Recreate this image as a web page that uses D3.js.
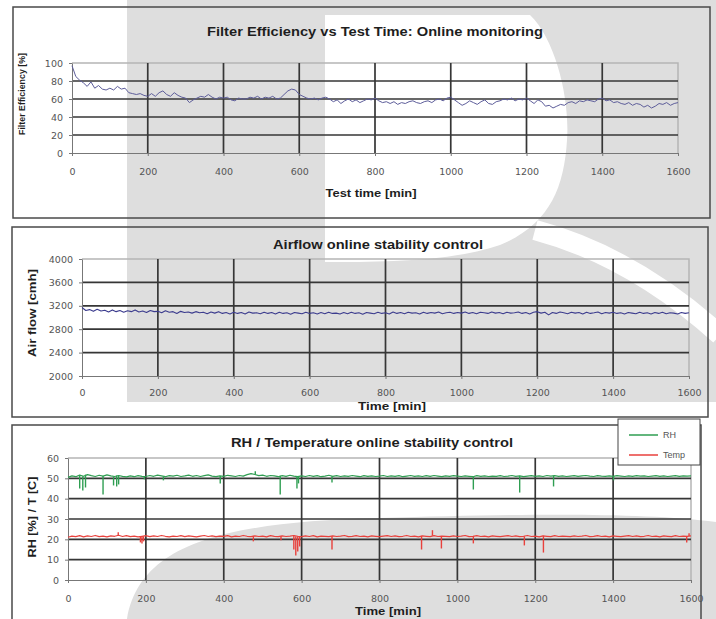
<!DOCTYPE html>
<meta charset="utf-8">
<title>Filter test: online monitoring</title>
<style>
    body { margin: 0; background: #fff; }
    svg { display: block; font-family: "Liberation Sans", Arial, sans-serif; }
    .title { font-size: 13.5px; font-weight: bold; fill: #1e1e1e; }
    .axis-title { font-size: 11px; font-weight: bold; fill: #1e1e1e; }
    .axis-title.small { font-size: 9px; }
    .tick text { font-family: "DejaVu Sans", sans-serif; font-size: 9.5px; fill: #555; }
    .tick line, .domain { stroke: #777; }
    .grid line { stroke: #363636; stroke-width: 1.7; }
    .frame { fill: none; stroke: #4a4a4a; stroke-width: 1.5; }
    .legend text { font-size: 9px; fill: #555; }
</style>
<svg width="716" height="619"></svg>
<script src="https://d3js.org/d3.v7.min.js"></script>
<script>

    // ---- data ----
    var timeTicks = [0, 200, 400, 600, 800, 1000, 1200, 1400, 1600];
    var sampleStep = 10; // minutes between samples

    var effTicks = [0, 20, 40, 60, 80, 100];
    var effValues = [
        97, 85, 81, 78, 74, 79, 72, 75, 71, 70,
        72, 70, 74, 71, 72, 67, 66, 65, 66, 64,
        63, 66, 63, 67, 69, 65, 63, 67, 64, 62,
        61, 56, 59, 61, 63, 62, 65, 62, 60, 62,
        61, 62, 59, 58, 61, 60, 60, 62, 61, 63,
        60, 62, 61, 63, 60, 61, 65, 69, 71, 70,
        65, 63, 61, 60, 61, 59, 61, 62, 60, 57,
        59, 55, 58, 60, 57, 59, 56, 58, 60, 59,
        61, 58, 56, 57, 55, 57, 54, 56, 55, 57,
        58, 56, 55, 57, 58, 56, 59, 60, 58, 61,
        62, 59, 56, 53, 55, 58, 56, 54, 57, 59,
        55, 54, 57, 58, 60, 59, 61, 58, 60, 59,
        61, 58, 55, 59, 57, 52, 53, 50, 52, 54,
        53, 56, 57, 55, 58, 57, 59, 58, 57, 60,
        61, 58, 59, 56, 57, 55, 54, 56, 53, 55,
        54, 51, 53, 50, 52, 55, 54, 56, 53, 55,
        56
    ];

    var flowTicks = [2000, 2400, 2800, 3200, 3600, 4000];
    var flowValues = [
        3170, 3120, 3135, 3105, 3140, 3110, 3125, 3095, 3130, 3100,
        3120, 3090, 3115, 3100, 3130, 3095, 3110, 3085, 3120, 3100,
        3105, 3080, 3115, 3090, 3100, 3070, 3105, 3085, 3095, 3075,
        3100, 3080, 3090, 3065, 3095, 3075, 3100, 3070, 3085, 3060,
        3090, 3070, 3085, 3060, 3095, 3075, 3080, 3065, 3090, 3070,
        3085, 3060, 3090, 3070, 3080, 3055, 3085, 3075, 3065, 3090,
        3070, 3080, 3060, 3085, 3065, 3090, 3070, 3075, 3060, 3085,
        3065, 3090, 3070, 3080, 3055, 3085, 3075, 3065, 3090, 3070,
        3080, 3060, 3095, 3070, 3085, 3065, 3090, 3075, 3080, 3060,
        3090, 3070, 3085, 3075, 3095, 3065, 3080, 3090, 3070, 3085,
        3075, 3095, 3070, 3085, 3065, 3090, 3080, 3070, 3095, 3075,
        3085, 3065, 3090, 3075, 3080, 3095, 3070, 3085, 3060, 3090,
        3100, 3075, 3090, 3045, 3085, 3070, 3095, 3080, 3065, 3090,
        3075, 3085, 3060, 3090, 3070, 3080, 3095, 3065, 3085, 3075,
        3090, 3070, 3080, 3060, 3085, 3075, 3065, 3090, 3070, 3080,
        3060, 3085, 3070, 3090, 3065, 3080, 3075, 3060, 3085, 3070,
        3080
    ];

    var rhTicks = [0, 10, 20, 30, 40, 50, 60];
    var rhValues = [
        50.5, 51.2, 50.8, 51.6, 51.0, 51.8, 51.3, 50.9, 51.5, 51.1,
        51.7, 51.2, 50.9, 51.4, 51.0, 50.7, 51.2, 50.8, 51.3, 51.0,
        50.9, 51.4, 51.0, 51.6, 51.2, 50.8, 51.3, 51.1, 51.5, 50.9,
        51.2, 51.6, 51.0, 51.4, 50.9, 51.3, 51.7, 51.1, 50.8, 51.2,
        51.0, 51.5, 51.2, 50.9, 51.4, 51.1, 51.8, 52.3, 51.9, 51.3,
        51.6, 51.0, 51.4, 51.2, 50.8, 51.3, 51.0, 51.5, 51.1, 50.8,
        51.2, 50.9, 51.4, 51.0, 51.3, 50.8, 51.1, 51.5, 51.0, 51.3,
        50.9, 51.2, 51.0, 51.4, 51.1, 50.8, 51.3, 51.0, 51.2, 50.9,
        51.1, 51.4, 50.9, 51.2, 51.0, 51.3, 50.8, 51.1, 51.4, 51.0,
        51.2, 50.9, 51.3, 51.0, 51.4, 51.1, 50.8, 51.2, 51.0, 51.3,
        51.1, 50.9, 51.2, 51.0, 50.8, 51.3, 51.0, 51.2, 50.9, 51.1,
        51.0, 51.3, 50.9, 51.1, 51.4, 51.0, 51.2, 50.8, 51.1, 51.3,
        51.0, 51.2, 50.9, 51.4, 51.1, 51.3, 51.0, 51.2, 50.9, 51.1,
        51.3, 51.0, 51.2, 51.4, 51.1, 50.9, 51.3, 51.1, 51.0, 51.2,
        51.0, 51.3, 51.1, 50.9, 51.2, 51.0, 51.3, 51.1, 51.2, 50.9,
        51.1, 51.3, 51.0, 51.2, 50.9, 51.1, 51.3, 51.0, 51.2, 51.1,
        51.2
    ];
    // short excursions of the RH signal: [time, value]
    var rhSpikes = [
        [30, 45], [38, 44], [45, 45.5], [90, 42], [117, 46.5], [125, 46], [130, 47],
        [196, 49.5], [245, 49], [391, 47.5], [481, 53.5], [545, 42], [588, 45],
        [592, 47.5], [678, 48], [1041, 44.5], [1160, 43], [1247, 46], [1401, 49]
    ];

    var tempValues = [
        21.0, 21.6, 21.3, 21.8, 21.2, 21.7, 21.4, 21.9, 21.3, 21.6,
        21.2, 21.7, 21.5, 22.0, 21.4, 21.8, 21.3, 21.6, 21.2, 21.5,
        21.8, 21.3, 21.7, 21.4, 21.9, 21.5, 21.2, 21.6, 21.4, 21.8,
        21.3, 21.7, 21.5, 21.2, 21.6, 21.9, 21.4, 21.7, 21.3, 21.6,
        21.5, 21.8, 21.2, 21.6, 21.4, 21.9, 21.5, 21.3, 21.7, 21.4,
        21.6, 21.2, 21.8, 21.5, 21.3, 21.7, 21.4, 21.6, 21.9, 21.5,
        21.3, 21.7, 21.4, 21.8, 21.2, 21.6, 21.5, 21.3, 21.7, 21.4,
        21.6, 21.9, 21.3, 21.5, 21.8, 21.4, 21.6, 21.2, 21.7, 21.5,
        21.3, 21.6, 21.8, 21.4, 21.7, 21.3, 21.5, 21.9, 21.4, 21.6,
        21.2, 21.7, 21.5, 21.3, 21.8, 21.4, 21.6, 21.5, 21.3, 21.7,
        21.4, 21.6, 21.9, 21.3, 21.5, 21.8, 21.4, 21.6, 21.2, 21.7,
        21.5, 21.3, 21.6, 21.8, 21.4, 21.7, 21.3, 21.5, 21.9, 21.4,
        21.6, 21.2, 21.7, 21.5, 21.3, 21.8, 21.4, 21.6, 21.5, 21.3,
        21.7, 21.4, 21.6, 21.9, 21.3, 21.5, 21.8, 21.4, 21.6, 21.2,
        21.7, 21.5, 21.3, 21.6, 21.8, 21.4, 21.7, 21.3, 21.5, 21.9,
        21.4, 21.6, 21.2, 21.7, 21.5, 21.3, 21.8, 21.4, 21.6, 21.5,
        21.7
    ];
    var tempSpikes = [
        [129, 23.5], [186, 18.5], [190, 18], [194, 19], [476, 19], [547, 19.5],
        [580, 15], [585, 12], [590, 14], [595, 16.5], [678, 15], [908, 15],
        [936, 24.5], [959, 15.5], [1041, 18], [1172, 17], [1221, 13.5],
        [1589, 18.5], [1595, 23]
    ];

    // ---- layout ----
    var svg = d3.select("svg");
    var wmGray = "#dedede";

    // background watermark of the scanned page
    svg.append("path").attr("fill", wmGray)
        .attr("d", "M127,0H716V402H127Z");
    svg.append("path").attr("fill", "#fff")
        .attr("d", "M325,15H530C556,40 570,100 567,140C564,190 548,225 500,245C450,262 380,262 325,262Z");
    svg.append("path").attr("fill", "none").attr("stroke", "#fff").attr("stroke-width", 20)
        .attr("d", "M535,230C610,250 670,290 720,335");
    svg.append("path").attr("fill", wmGray)
        .attr("d", "M127,619C140,545 220,522 380,518C520,514 640,512 716,522V619Z");

    // text boxes: [x, y, length]
    var panels = [
        {
            box: [13, 7, 697, 211], left: 72, right: 678, top: 63, bottom: 153,
            yDomain: [0, 100], yTicks: effTicks, xPad: 12,
            title: "Filter Efficiency vs Test Time: Online monitoring", titlePos: [375, 36, 336],
            xTitle: "Test time [min]", xTitlePos: [371, 197, 91],
            yTitle: "Filter Efficiency [%]", yTitlePos: [22, 94, 82], yTitleSmall: true
        },
        {
            box: [12, 227, 696, 190], left: 82, right: 689, top: 259, bottom: 376,
            yDomain: [2000, 4000], yTicks: flowTicks, xPad: 10,
            title: "Airflow online stability control", titlePos: [378, 249, 210],
            xTitle: "Time [min]", xTitlePos: [392, 410, 68],
            yTitle: "Air flow [cmh]", yTitlePos: [32, 313, 88]
        },
        {
            box: [12, 425, 689, 220], left: 68, right: 691, top: 458, bottom: 580,
            yDomain: [0, 60], yTicks: rhTicks, xPad: 12,
            title: "RH / Temperature online stability control", titlePos: [372, 447, 282],
            xTitle: "Time [min]", xTitlePos: [388, 615, 66],
            yTitle: "RH [%] / T [C]", yTitlePos: [32, 517, 81]
        }
    ];

    var scales = panels.map(drawPanel);

    // ---- series ----
    drawLine(scales[0], effValues, "#5d5d9a", 1);
    drawLine(scales[1], flowValues, "#3c3c8e", 1.1);
    drawLine(scales[2], rhValues, "#2f9e52", 1.2);
    drawSpikes(scales[2], rhValues, rhSpikes, "#2f9e52");
    drawLine(scales[2], tempValues, "#e8413c", 1.2);
    drawSpikes(scales[2], tempValues, tempSpikes, "#e8413c");

    // legend of the RH panel
    var legend = svg.append("g").attr("class", "legend");
    legend.append("rect")
        .attr("x", 618).attr("y", 419).attr("width", 82).attr("height", 46)
        .attr("fill", "#fff").attr("stroke", "#444").attr("stroke-width", 1);
    [["RH", "#2f9e52"], ["Temp", "#e8413c"]].forEach(function(d, i) {
        var yy = 435 + i * 20;
        legend.append("line")
            .attr("x1", 629).attr("x2", 658).attr("y1", yy).attr("y2", yy)
            .attr("stroke", d[1]).attr("stroke-width", 1.5);
        legend.append("text")
            .attr("x", 663).attr("y", yy).attr("dy", "0.35em")
            .text(d[0]);
    });

    function drawPanel(p) {
        var x = d3.scaleLinear().domain([0, 1600]).range([p.left, p.right]),
            y = d3.scaleLinear().domain(p.yDomain).range([p.bottom, p.top]);
        var g = svg.append("g");

        g.append("rect").attr("class", "frame")
            .attr("x", p.box[0]).attr("y", p.box[1])
            .attr("width", p.box[2]).attr("height", p.box[3]);

        // light outline on top and right of the plot area
        g.append("path")
            .attr("d", "M" + p.left + "," + p.top + "H" + p.right + "V" + p.bottom)
            .attr("fill", "none").attr("stroke", "#b5b5b5").attr("stroke-width", 1.5);

        var grid = g.append("g").attr("class", "grid");
        grid.selectAll(".h").data(p.yTicks.slice(1, -1)).enter().append("line")
            .attr("x1", p.left).attr("x2", p.right)
            .attr("y1", function(d) { return y(d); }).attr("y2", function(d) { return y(d); });
        grid.selectAll(".v").data(timeTicks.slice(1, -1)).enter().append("line")
            .attr("y1", p.top).attr("y2", p.bottom)
            .attr("x1", function(d) { return x(d); }).attr("x2", function(d) { return x(d); });

        g.append("g")
            .attr("transform", "translate(" + p.left + ",0)")
            .call(d3.axisLeft(y).tickValues(p.yTicks).tickFormat(d3.format("d"))
                .tickSize(3).tickPadding(6).tickSizeOuter(0));
        g.append("g")
            .attr("transform", "translate(0," + p.bottom + ")")
            .call(d3.axisBottom(x).tickValues(timeTicks).tickFormat(d3.format("d"))
                .tickSize(3).tickPadding(p.xPad).tickSizeOuter(0));

        fitText(g.append("text").attr("class", "title"), p.titlePos, p.title);
        fitText(g.append("text").attr("class", "axis-title"), p.xTitlePos, p.xTitle);
        g.append("text").attr("class", "axis-title" + (p.yTitleSmall ? " small" : ""))
            .attr("transform", "translate(" + p.yTitlePos[0] + "," + p.yTitlePos[1] + ") rotate(-90)")
            .attr("text-anchor", "middle").attr("dy", "0.35em")
            .attr("textLength", p.yTitlePos[2]).attr("lengthAdjust", "spacingAndGlyphs")
            .text(p.yTitle);

        return {x: x, y: y};
    }

    function fitText(sel, pos, str) {
        sel.attr("x", pos[0]).attr("y", pos[1]).attr("text-anchor", "middle")
            .attr("textLength", pos[2]).attr("lengthAdjust", "spacingAndGlyphs")
            .text(str);
    }

    function drawLine(s, values, color, width) {
        var line = d3.line()
            .x(function(d, i) { return s.x(i * sampleStep); })
            .y(function(d) { return s.y(d); });
        svg.append("path")
            .datum(values)
            .attr("fill", "none")
            .attr("stroke", color)
            .attr("stroke-width", width)
            .attr("stroke-linejoin", "round")
            .attr("d", line);
    }

    function drawSpikes(s, values, spikes, color) {
        svg.append("g").selectAll("line")
            .data(spikes)
            .enter().append("line")
            .attr("x1", function(d) { return s.x(d[0]); })
            .attr("x2", function(d) { return s.x(d[0]); })
            .attr("y1", function(d) { return s.y(values[Math.round(d[0] / sampleStep)]); })
            .attr("y2", function(d) { return s.y(d[1]); })
            .attr("stroke", color)
            .attr("stroke-width", 1.4);
    }

</script>
